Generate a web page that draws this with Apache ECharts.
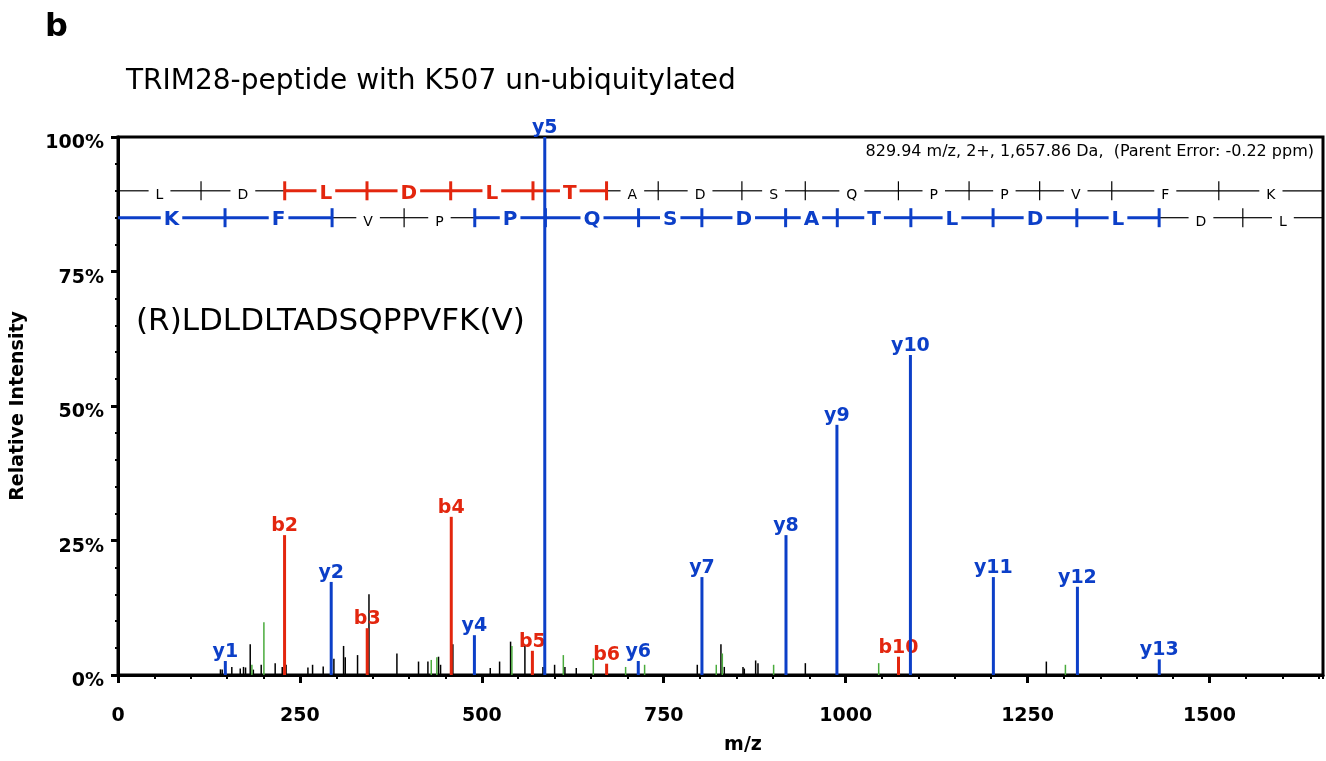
<!DOCTYPE html>
<html><head><meta charset="utf-8">
<script src="https://cdn.jsdelivr.net/npm/echarts@6/dist/echarts.min.js"></script>
<style>html,body{margin:0;padding:0;background:#fff}#c{width:1326px;height:761px}</style>
</head><body><div id="c"></div>
<script>
// ---------- data ----------
const X_MAX = 1656;
const xTickLabels = [0, 250, 500, 750, 1000, 1250, 1500];
const yTickLabels = [0, 25, 50, 75, 100];

// annotated b ions (red)
const bPeakMz = [228.9, 342.5, 458.0, 569.5, 671.5, 1072.6];
const bPeakInt = [26.0, 8.7, 29.4, 4.5, 2.1, 3.4];
const bPeakLabels = ['b2', 'b3', 'b4', 'b5', 'b6', 'b10'];

// annotated y ions (blue)
const yPeakMz = [147.5, 293.0, 489.8, 586.5, 715.0, 802.5, 918.0, 988.0, 1089.0, 1203.0, 1318.5, 1431.0];
const yPeakInt = [2.6, 17.3, 7.4, 100, 2.6, 18.2, 26.0, 46.5, 59.5, 18.2, 16.4, 2.9];
const yPeakLabels = ['y1', 'y2', 'y4', 'y5', 'y6', 'y7', 'y8', 'y9', 'y10', 'y11', 'y12', 'y13'];

// unassigned peaks (black)
const otherMz = [140.8, 143.2, 156.4, 168.0, 172.5, 175.3, 181.7, 186.0, 196.8, 216.0, 225.7, 231.0, 261.0, 267.4, 282.0,
  296.7, 310.0, 312.3, 329.2, 344.9, 383.3, 413.0, 425.9, 440.5, 443.3, 460.2, 511.6, 524.4, 539.5, 559.2, 584.0, 600.0,
  614.2, 629.8, 796.1, 828.6, 833.2, 858.9, 860.7, 876.3, 879.5, 944.6, 1275.8];
const otherInt = [1.05, 1.0, 1.5, 1.2, 1.5, 1.4, 5.7, 1.0, 1.9, 2.2, 1.5, 1.9, 1.4, 1.9, 1.6,
  3.0, 5.4, 3.3, 3.7, 15.0, 4.0, 2.5, 2.5, 3.4, 1.9, 5.7, 1.3, 2.5, 6.2, 5.5, 1.5, 1.9,
  1.5, 1.3, 1.9, 5.7, 1.5, 1.5, 1.2, 2.7, 2.2, 2.2, 2.5];

// neutral-loss / other matched peaks (green)
const greenMz = [184.0, 200.5, 430.5, 438.2, 541.3, 612.0, 653.2, 697.6, 723.7, 822.2, 830.5, 901.0, 1045.4, 1302.0];
const greenInt = [1.9, 9.8, 2.8, 3.3, 5.4, 3.7, 3.1, 1.5, 1.9, 1.9, 4.0, 1.9, 2.2, 1.9];

// sequence ladder
const sequence = 'LDLDLTADSQPPVFK';
const bIonMz = [114.1, 229.1, 342.2, 457.2, 570.3, 671.4, 742.4, 857.4, 944.5, 1072.5, 1169.6, 1266.6, 1365.7, 1512.8];
const yIonMz = [147.1, 294.2, 393.2, 490.3, 587.4, 715.4, 802.4, 917.5, 988.5, 1089.6, 1202.6, 1317.7, 1430.8, 1545.8];
const bResidueCovered = [0, 0, 1, 1, 1, 1, 0, 0, 0, 0, 0, 0, 0, 0, 0];
const yResidueCovered = [1, 1, 0, 0, 1, 1, 1, 1, 1, 1, 1, 1, 1, 0, 0]; // left to right (reversed sequence)
const bTickHit = [0, 1, 1, 1, 1, 1, 0, 0, 0, 0, 0, 0, 0, 0];
const yTickHit = [1, 1, 0, 1, 1, 1, 1, 1, 1, 1, 1, 1, 1, 0];
const ladderLevels = [90, 85];

// ---------- styling ----------
const FONT = '"DejaVu Sans"';
const BLUE = '#0c3fc8', RED = '#e3260e', GREEN = '#4aab3c', BLACK = '#000';

const mctx = document.createElement('canvas').getContext('2d');
function textWidth(s, font) { mctx.font = font; return mctx.measureText(s).width; }

function stickSeries(name, mz, inten, color, width, labels, z) {
  return {
    type: 'custom', name, z, silent: true,
    xAxisIndex: 0, yAxisIndex: 0,
    data: mz.map((m, i) => [m, inten[i]]),
    encode: { x: 0, y: 1 },
    renderItem(params, api) {
      const m = api.value(0), v = api.value(1);
      const base = api.coord([m, 0]);
      const tip = api.coord([m, v]);
      const children = [{
        type: 'line',
        shape: { x1: base[0], y1: base[1], x2: tip[0], y2: tip[1] },
        style: { stroke: color, lineWidth: width }
      }];
      if (labels) {
        children.push({
          type: 'text',
          x: tip[0], y: tip[1] - 9,
          style: {
            text: labels[params.dataIndex], fill: color,
            font: 'bold 19px ' + FONT,
            align: 'center', textAlign: 'center',
            verticalAlign: 'middle', textVerticalAlign: 'middle'
          }
        });
      }
      return { type: 'group', children };
    }
  };
}

// ladder segments
const ladderSegs = [], ladderLetters = [];
const bBounds = [0, ...bIonMz, X_MAX];
const yBounds = [0, ...yIonMz, X_MAX];
const revSeq = sequence.split('').reverse();
for (let i = 0; i < sequence.length; i++) {
  ladderSegs.push([bBounds[i], bBounds[i + 1], ladderLevels[0], bResidueCovered[i], 0]);
  ladderLetters.push(sequence[i]);
}
for (let i = 0; i < revSeq.length; i++) {
  ladderSegs.push([yBounds[i], yBounds[i + 1], ladderLevels[1], yResidueCovered[i], 1]);
  ladderLetters.push(revSeq[i]);
}
const ladderTicks = [];
bIonMz.forEach((m, i) => ladderTicks.push([m, ladderLevels[0], bTickHit[i], 0]));
yIonMz.forEach((m, i) => ladderTicks.push([m, ladderLevels[1], yTickHit[i], 1]));

const ladderSegSeries = {
  type: 'custom', z: 2, silent: true,
  data: ladderSegs,
  encode: { x: [0, 1], y: 2 },
  renderItem(params, api) {
    const s = api.value(0), e = api.value(1), lv = api.value(2), col = api.value(3), row = api.value(4);
    const p0 = api.coord([s, lv]), p1 = api.coord([e, lv]);
    const letter = ladderLetters[params.dataIndex];
    const color = col ? (row === 0 ? RED : BLUE) : BLACK;
    const font = col ? 'bold 20px ' + FONT : '14px ' + FONT;
    const w = textWidth(letter, font);
    const pad = col ? 3 : 7;
    const cx = (p0[0] + p1[0]) / 2;
    const lw = col ? 3 : 1.2;
    return {
      type: 'group',
      children: [
        { type: 'line', shape: { x1: p0[0], y1: p0[1], x2: cx - w / 2 - pad, y2: p0[1] }, style: { stroke: color, lineWidth: lw } },
        { type: 'line', shape: { x1: cx + w / 2 + pad, y1: p0[1], x2: p1[0], y2: p0[1] }, style: { stroke: color, lineWidth: lw } },
        { type: 'text', x: cx, y: p0[1] + (col ? 2.5 : 5),
          style: { text: letter, fill: color, font, align: 'center', textAlign: 'center', verticalAlign: 'middle', textVerticalAlign: 'middle' } }
      ]
    };
  }
};
const ladderTickSeries = {
  type: 'custom', z: 3, silent: true,
  data: ladderTicks,
  encode: { x: 0, y: 1 },
  renderItem(params, api) {
    const m = api.value(0), lv = api.value(1), hit = api.value(2), row = api.value(3);
    const p = api.coord([m, lv]);
    const color = hit ? (row === 0 ? RED : BLUE) : BLACK;
    return { type: 'line', shape: { x1: p[0], y1: p[1] - 9.5, x2: p[0], y2: p[1] + 9.5 },
      style: { stroke: color, lineWidth: hit ? 3 : 1.2 } };
  }
};

const axisFont = { fontFamily: FONT, fontWeight: 'bold', fontSize: 19, color: '#000' };

const option = {
  animation: false,
  backgroundColor: '#fff',
  title: [
    { text: 'b', left: 45, top: 12, padding: 0, textStyle: { fontFamily: FONT, fontWeight: 'bold', fontSize: 32, lineHeight: 32, color: '#000' } },
    { text: 'TRIM28-peptide with K507 un-ubiquitylated', left: 126, top: 68, padding: 0,
      textStyle: { fontFamily: FONT, fontWeight: 'normal', fontSize: 28, lineHeight: 28, color: '#000' } },
    { text: '829.94 m/z, 2+, 1,657.86 Da,  (Parent Error: -0.22 ppm)', right: 12, top: 144, padding: 0,
      textStyle: { fontFamily: FONT, fontWeight: 'normal', fontSize: 16, lineHeight: 16, color: '#000' } },
    { text: '(R)LDLDLTADSQPPVFK(V)', left: 136, top: 306, padding: 0,
      textStyle: { fontFamily: FONT, fontWeight: 'normal', fontSize: 31, lineHeight: 31, color: '#000' } }
  ],
  grid: { left: 118, right: 3, top: 137, bottom: 86, show: true, borderColor: '#000', borderWidth: 3, backgroundColor: 'transparent' },
  xAxis: [
    {
      type: 'value', min: 0, max: X_MAX, interval: 250, position: 'bottom',
      axisLine: { show: true, onZero: false, lineStyle: { color: '#000', width: 3 } },
      axisTick: { show: true, length: 8, lineStyle: { color: '#000', width: 3 } },
      minorTick: { show: false }, splitLine: { show: false },
      axisLabel: Object.assign({ margin: 32, showMaxLabel: false,
        formatter: v => (xTickLabels.indexOf(v) >= 0 ? String(v) : '') }, axisFont),
      name: 'm/z', nameLocation: 'middle', nameGap: 61,
      nameTextStyle: Object.assign({ padding: [0, 0, 0, 45] }, axisFont)
    },
    {
      type: 'value', min: 0, max: X_MAX, interval: 50, position: 'bottom',
      axisLine: { show: false, onZero: false },
      axisTick: { show: true, length: 4, lineStyle: { color: '#000', width: 2 } },
      axisLabel: { show: false }, splitLine: { show: false }
    }
  ],
  yAxis: {
    type: 'value', min: 0, max: 100, interval: 25,
    axisLine: { show: true, lineStyle: { color: '#000', width: 3 } },
    axisTick: { show: true, length: 7, lineStyle: { color: '#000', width: 3 } },
    minorTick: { show: true, splitNumber: 5, length: 3, lineStyle: { color: '#000', width: 2 } },
    splitLine: { show: false }, minorSplitLine: { show: false },
    axisLabel: Object.assign({ margin: 14, verticalAlign: 'top', lineHeight: 13,
      formatter: v => (yTickLabels.indexOf(v) >= 0 ? v + '%' : '') }, axisFont),
    name: 'Relative Intensity', nameLocation: 'middle', nameGap: 90,
    nameTextStyle: Object.assign({}, axisFont)
  },
  series: [
    ladderSegSeries,
    ladderTickSeries,
    stickSeries('other', otherMz, otherInt, BLACK, 1.5, null, 4),
    stickSeries('green', greenMz, greenInt, GREEN, 1.5, null, 5),
    stickSeries('b', bPeakMz, bPeakInt, RED, 3, bPeakLabels, 6),
    stickSeries('y', yPeakMz, yPeakInt, BLUE, 3, yPeakLabels, 7)
  ]
};

const chart = echarts.init(document.getElementById('c'), null, { renderer: 'canvas' });
chart.setOption(option);
</script>
</body></html>
